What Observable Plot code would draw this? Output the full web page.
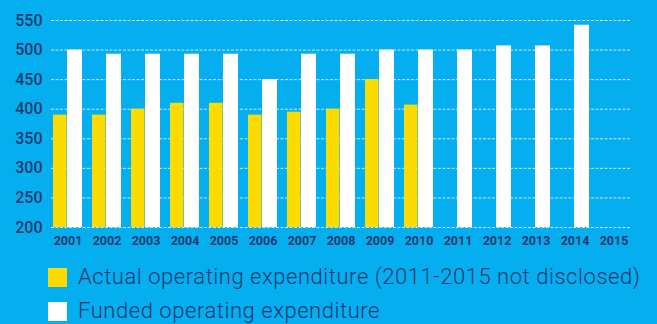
<!DOCTYPE html>
<html>
<head>
<meta charset="utf-8">
<script src="https://cdn.jsdelivr.net/npm/d3@7"></script>
<script src="https://cdn.jsdelivr.net/npm/@observablehq/plot@0.6"></script>
<style>
  html, body { margin: 0; padding: 0; background: #05aeef; width: 657px; height: 324px; overflow: hidden; }
  #chart svg { display: block; }
  .legend { position: relative; font-family: Roboto, sans-serif; font-weight: 300; color: #1b3a6e; }
  .row { position: absolute; left: 48px; display: flex; align-items: center; font-size: 22px; letter-spacing: 0.55px; white-space: nowrap; line-height: 24px; }
  .sw { width: 19px; height: 19px; margin-right: 11px; }
</style>
</head>
<body>
<div id="chart"></div>
<div class="legend" id="legend"></div>
<script>
const years = ["2001","2002","2003","2004","2005","2006","2007","2008","2009","2010","2011","2012","2013","2014","2015"];
const actual = [390, 390, 400, 410, 410, 390, 395, 400, 450, 407, null, null, null, null, null];
const funded = [500, 493, 493, 493, 493, 450, 493, 493, 500, 500, 500, 507, 507, 542, null];
const yTicks = [200, 250, 300, 350, 400, 450, 500, 550];
const seriesNames = ["Actual operating expenditure (2011-2015 not disclosed)", "Funded operating expenditure"];
const seriesColors = ["#fcdb00", "#ffffff"];

const actualData = years.map((y, i) => ({year: y, value: actual[i]})).filter(d => d.value != null);
const fundedData = years.map((y, i) => ({year: y, value: funded[i]})).filter(d => d.value != null);

const navy = "#1b3a6e";
const plot = Plot.plot({
  width: 657,
  height: 255,
  marginLeft: 51,
  marginRight: 27,
  marginTop: 20,
  marginBottom: 28,
  style: {background: "transparent", fontFamily: "Roboto, sans-serif", color: navy},
  x: {domain: years, paddingInner: 0.26, paddingOuter: 0.0, align: 0.5, label: null, tickSize: 0, tickPadding: 9},
  y: {domain: [200, 550], ticks: yTicks, label: null, tickSize: 0, tickPadding: 9},
  marks: [
    Plot.ruleY(yTicks, {stroke: "#d8f2fd", strokeWidth: 1, strokeDasharray: "3,1.5", strokeOpacity: 0.9}),
    Plot.barY(actualData, {x: "year", y1: 200, y2: "value", fill: seriesColors[0], insetRight: 15.5}),
    Plot.barY(fundedData, {x: "year", y1: 200, y2: "value", fill: seriesColors[1], insetLeft: 14})
  ]
});
document.getElementById("chart").appendChild(plot);

d3.select(plot).selectAll("g[aria-label='x-axis tick label'] text, g[aria-label='x-axis'] text")
  .style("font-size", "12.5px").style("font-weight", "700").attr("fill", navy);
d3.select(plot).selectAll("g[aria-label='y-axis tick label'] text, g[aria-label='y-axis'] text")
  .style("font-size", "16px").style("font-weight", "500").attr("fill", navy);

const legend = document.getElementById("legend");
const rowTops = [10, 44];
seriesNames.forEach((name, i) => {
  const row = document.createElement("div");
  row.className = "row";
  row.style.top = rowTops[i] + "px";
  const sw = document.createElement("div");
  sw.className = "sw";
  sw.style.background = seriesColors[i];
  const t = document.createElement("span");
  t.textContent = name;
  row.appendChild(sw);
  row.appendChild(t);
  legend.appendChild(row);
});
</script>
</body>
</html>
